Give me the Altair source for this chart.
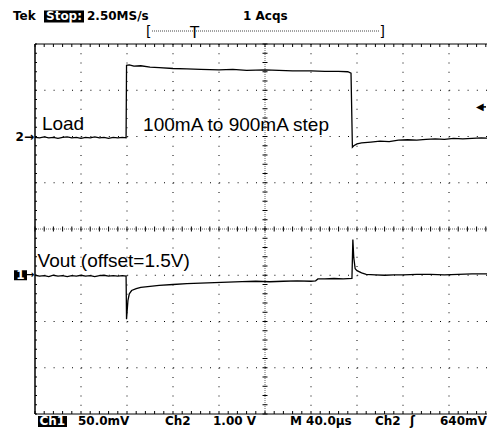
import altair as alt
import pandas as pd

# ---- traces, in screen divisions (x: 0..10 div of 40us, y: -4..4 div) ----
load_t = [0, 0.1, 0.2, 0.3, 0.4, 0.5, 0.6, 0.7, 0.8, 0.9, 1.0, 1.1, 1.2, 1.3, 1.4, 1.5,
          1.6, 1.7, 1.8, 1.9, 1.98, 1.99, 2.05, 2.15, 2.3, 2.5, 2.7, 3.0, 3.3, 3.6, 4.0,
          4.3, 4.6, 5.0, 5.3, 5.6, 6.0, 6.3, 6.6, 6.8, 6.87, 6.9, 6.93, 7.0, 7.1, 7.3,
          7.5, 7.7, 7.9, 8.1, 8.3, 8.5, 8.7, 8.9, 9.1, 9.3, 9.5, 9.7, 9.9, 10.0]
load_v = [1.98, 1.97, 1.99, 1.97, 1.98, 1.96, 1.98, 1.99, 1.97, 1.98, 1.96, 1.98, 1.97, 1.99,
          1.97, 1.98, 1.96, 1.98, 1.97, 1.98, 1.97, 3.54, 3.55, 3.52, 3.53, 3.50, 3.49, 3.47,
          3.46, 3.45, 3.44, 3.45, 3.43, 3.44, 3.43, 3.42, 3.42, 3.41, 3.41, 3.40, 3.37, 1.77,
          1.80, 1.84, 1.86, 1.88, 1.90, 1.89, 1.92, 1.93, 1.92, 1.94, 1.95, 1.94, 1.96, 1.95,
          1.96, 1.97, 1.96, 1.97]

vout_t = [0, 0.1, 0.2, 0.3, 0.4, 0.5, 0.6, 0.7, 0.8, 0.9, 1.0, 1.1, 1.2, 1.3, 1.4, 1.5,
          1.6, 1.7, 1.8, 1.9, 1.98, 1.99, 2.02, 2.05, 2.1, 2.2, 2.3, 2.5, 2.7, 3.0, 3.3,
          3.6, 3.9, 4.2, 4.5, 4.8, 5.1, 5.4, 5.7, 6.0, 6.1, 6.15, 6.3, 6.5, 6.7, 6.89,
          6.91, 6.93, 6.96, 7.0, 7.1, 7.2, 7.4, 7.6, 7.8, 8.0, 8.3, 8.6, 8.9, 9.2, 9.5,
          9.8, 10.0]
vout_v = [-1.00, -1.02, -1.01, -1.03, -1.00, -1.02, -1.01, -1.03, -1.01, -1.02, -1.00, -1.02,
          -1.01, -1.03, -1.01, -1.00, -1.02, -1.01, -1.02, -1.01, -1.02, -1.95, -1.55, -1.40,
          -1.33, -1.29, -1.26, -1.24, -1.22, -1.20, -1.18, -1.17, -1.16, -1.15, -1.14, -1.13,
          -1.14, -1.13, -1.12, -1.13, -1.12, -1.08, -1.08, -1.07, -1.08, -1.07, -0.23, -0.62,
          -0.86, -0.90, -0.95, -0.98, -0.99, -1.00, -0.99, -0.99, -0.98, -0.98, -0.99, -0.98,
          -0.97, -0.97, -0.96]

x_div = [1, 2, 3, 4, 6, 7, 8, 9]
y_div = [-3, -2, -1, 1, 2, 3]
center_t = [5]
center_v = [0]
fine_t = [round(i * 0.2, 1) for i in range(51)]
fine_v = [round(-4 + i * 0.2, 1) for i in range(41)]

# full graticule is 460 px wide; the page only shows the first 452 px of it
GW, H = 460, 370
W = 452
XD, YD = GW / 10.0, H / 8.0
xs = alt.Scale(domain=[0, 10], range=[0, GW], nice=False, zero=False)
ys = alt.Scale(domain=[-4, 4], nice=False, zero=False)

one = pd.DataFrame({"k": [0]})


def px(t):
    return t * XD


def py(v):
    return (4 - v) * YD


def X(f):
    return alt.X(f, scale=xs, axis=None)


def Y(f):
    return alt.Y(f, scale=ys, axis=None)


def txt(text, x, y, size=12, color="black", weight="bold", font="DejaVu Sans",
        align="left", baseline="alphabetic"):
    return alt.Chart(one).mark_text(
        text=text, fontSize=size, color=color, fontWeight=weight, font=font,
        align=align, baseline=baseline
    ).encode(x=alt.value(x), y=alt.value(y))


def box(x1, x2, y1, y2):
    return alt.Chart(one).mark_rect(color="black").encode(
        x=alt.value(x1), x2=alt.value(x2), y=alt.value(y1), y2=alt.value(y2))


def hline(x1, x2, y, width=1.0, color="black", dash=None):
    kw = dict(color=color, strokeWidth=width)
    if dash:
        kw["strokeDash"] = dash
    return alt.Chart(one).mark_rule(**kw).encode(
        x=alt.value(x1), x2=alt.value(x2), y=alt.value(y))


def vline(x, y1, y2, width=1.0, color="black"):
    return alt.Chart(one).mark_rule(color=color, strokeWidth=width).encode(
        x=alt.value(x), y=alt.value(y1), y2=alt.value(y2))


dfx = pd.DataFrame({"t": x_div})
dfy = pd.DataFrame({"v": y_div})
dft = pd.DataFrame({"t": fine_t})
dfv = pd.DataFrame({"v": fine_v})

grid_x = alt.Chart(dfx).mark_rule(
    color="black", strokeWidth=1, strokeDash=[1, 8.25]).encode(x=X("t:Q"))
grid_y = alt.Chart(dfy).mark_rule(
    color="black", strokeWidth=1, strokeDash=[1, 8.2]).encode(y=Y("v:Q"))

center_x = alt.Chart(pd.DataFrame({"t": center_t})).mark_rule(
    color="#666", strokeWidth=1, strokeDash=[1, 1]).encode(x=X("t:Q"))
center_y = alt.Chart(pd.DataFrame({"v": center_v})).mark_rule(
    color="#666", strokeWidth=1, strokeDash=[1, 1]).encode(y=Y("v:Q"))
cticks_h = alt.Chart(dft).mark_rule(color="black", strokeWidth=1).encode(
    x=X("t:Q"), y=alt.value(py(0) - 2.5), y2=alt.value(py(0) + 2.5))
cticks_v = alt.Chart(dfv).mark_rule(color="black", strokeWidth=1).encode(
    y=Y("v:Q"), x=alt.value(px(5) - 2.5), x2=alt.value(px(5) + 2.5))

tick_top = alt.Chart(dft).mark_rule(color="black").encode(
    x=X("t:Q"), y=alt.value(0), y2=alt.value(3))
tick_bot = alt.Chart(dft).mark_rule(color="black").encode(
    x=X("t:Q"), y=alt.value(H - 3), y2=alt.value(H))
tick_left = alt.Chart(dfv).mark_rule(color="black").encode(
    y=Y("v:Q"), x=alt.value(0), x2=alt.value(2))

border = [
    hline(0, W, 0),
    hline(0, W, H),
    vline(0, 0, H, width=1.5),
]

load = alt.Chart(pd.DataFrame({"t": load_t, "v": load_v})).mark_line(
    color="black", strokeWidth=1.3, clip=True).encode(x=X("t:Q"), y=Y("v:Q"), order="t:Q")
vout = alt.Chart(pd.DataFrame({"t": vout_t, "v": vout_v})).mark_line(
    color="black", strokeWidth=1.3, clip=True).encode(x=X("t:Q"), y=Y("v:Q"), order="t:Q")

lbl_font = "Liberation Sans"
labels = [
    txt("Load", px(0.15), py(2.14), size=19, weight="normal", font=lbl_font),
    txt("100mA to 900mA step", px(2.35), py(2.12), size=19, weight="normal", font=lbl_font),
    txt("Vout (offset=1.5V)", px(0.055), py(-0.82), size=19, weight="normal", font=lbl_font),
]

# header (pixel offsets from the graticule's top-left corner)
header = [
    txt("Tek", -22, -24),
    box(9, 49, -33.5, -21.5),
    txt("Stop:", 11, -24, color="white"),
    txt("2.50MS/s", 52, -24),
    txt("1 Acqs", 208, -24),
    hline(117, 345, -13, color="#444", dash=[1, 1]),
    txt("[", 111, -8, size=14, weight="normal"),
    txt("]", 350, -8, size=14, weight="normal", align="right"),
    txt("T", 159.5, -6.5, size=15, weight="normal", align="center"),
]

# footer
footer = [
    box(3, 32, 372, 383),
    txt("Ch1", 4.5, 381, color="white"),
    txt("50.0mV", 43, 381),
    txt("Ch2", 130, 381),
    txt("1.00 V", 178, 381),
    txt("M 40.0µs", 255, 381),
    txt("Ch2", 340, 381),
    txt("ʃ", 375, 381),
    txt("640mV", 405, 381),
]

# channel and trigger markers
markers = [
    txt("2→", -1, py(2.0), align="right", baseline="middle"),
    box(-21, -8, py(-1.0) - 5, py(-1.0) + 5),
    txt("1", -14.5, py(-1.0), color="white", align="center", baseline="middle"),
    txt("→", -0.5, py(-1.0), size=10, align="right", baseline="middle"),
    txt("◀", 441, py(2.64), size=10, weight="normal", align="left", baseline="middle"),
    hline(446, 451, py(2.64), width=1.5),
]

chart = alt.layer(
    grid_x, grid_y, center_x, center_y, cticks_h, cticks_v,
    tick_top, tick_bot, tick_left, *border,
    load, vout, *labels, *header, *footer, *markers
).properties(
    width=W, height=H,
    autosize=alt.AutoSizeParams(type="none"),
    padding={"left": 27, "top": 36, "right": 0, "bottom": 15},
    background="white",
).configure_view(stroke=None)

chart.save("out.html", embed_options={"renderer": "svg", "actions": False})
